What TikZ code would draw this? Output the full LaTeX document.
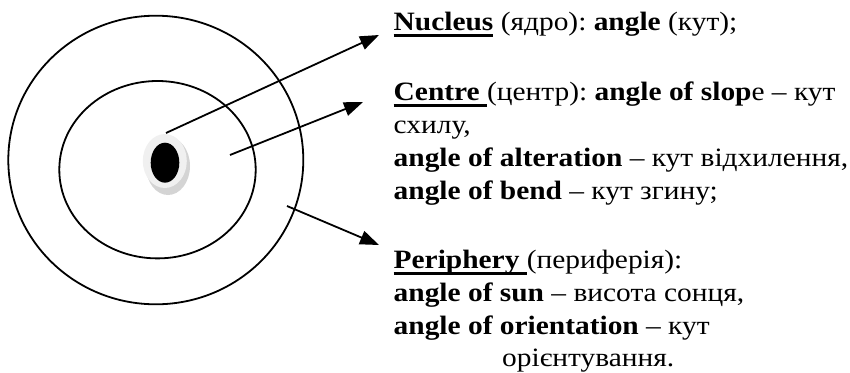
\documentclass[tikz,border=0pt]{standalone}
\usepackage{fontspec}
\setmainfont{Liberation Serif}[FakeStretch=1.11]
\usetikzlibrary{arrows.meta}
\newcommand\myul[1]{\sbox0{#1}\rlap{\rule[-6.7pt]{\wd0}{2.3pt}}\usebox0}
\begin{document}
\begin{tikzpicture}[x=1pt,y=-1pt,
  txt/.style={anchor=base west, inner sep=0pt, font=\fontsize{26.5}{33}\selectfont\frenchspacing},
  ring/.style={draw, line width=1.8pt},
  arr/.style={line width=1.8pt, -{Triangle[length=19pt,width=14pt]}}]
\useasboundingbox (0,0) rectangle (850,372);
% rings
\draw[ring] (155.8,160) ellipse [x radius=147.5pt, y radius=144.3pt];
\draw[ring] (157.5,169.7) ellipse [x radius=98.2pt, y radius=88.7pt];
% nucleus
\fill[black!17] (168,166) ellipse [x radius=22pt, y radius=29pt];
\fill[black!6] (164.8,161) ellipse [x radius=22pt, y radius=27pt];
\fill[black] (165,162.7) ellipse [x radius=14.3pt, y radius=20pt];
% arrow ends
\coordinate (s1) at (166,133);
\coordinate (e1) at (379,35);
\coordinate (s2) at (230,155);
\coordinate (e2) at (363,102);
\coordinate (s3) at (287,206);
\coordinate (e3) at (379,245);
\draw[arr] (s1) -- (e1);
\draw[arr] (s2) -- (e2);
\draw[arr] (s3) -- (e3);
% texts
\node[txt] (t1) at (393.5,30) {\myul{\textbf{Nucleus}} (ядро): \textbf{angle} (кут);};
\node[txt] (t2) at (393.5,100) {\myul{\textbf{Centre} }(центр): \textbf{angle of slop}e – кут};
\node[txt] (t3) at (393.5,133) {схилу,};
\node[txt] (t4) at (393.5,166.5) {\textbf{angle of alteration} – кут відхилення,};
\node[txt] (t5) at (393.5,199) {\textbf{angle of bend} – кут згину;};
\node[txt] (t6) at (393.5,268) {\myul{\textbf{Periphery} }(периферія):};
\node[txt] (t7) at (393.5,301.5) {\textbf{angle of sun} – висота сонця,};
\node[txt] (t8) at (393.5,334) {\textbf{angle of orientation} – кут};
\node[txt] (t9) at (502,366) {орієнтування.};
\end{tikzpicture}
\end{document}
